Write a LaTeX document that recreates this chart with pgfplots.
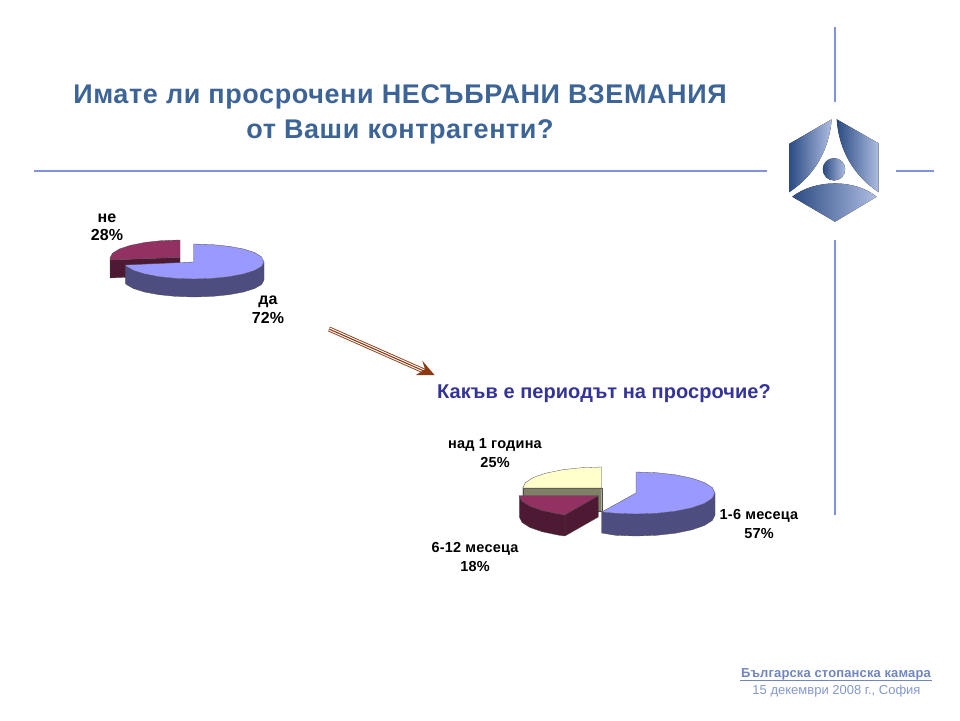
\documentclass[border=0pt]{standalone}
\usepackage{pgfplots}
\pgfplotsset{compat=1.18}
\usepackage{fontspec}
\setmainfont{Liberation Sans}
\definecolor{rule}{HTML}{8094DC}
\definecolor{ttl}{HTML}{3D6496}
\definecolor{sub}{HTML}{333399}
\definecolor{blueT}{HTML}{9999FF}
\definecolor{blueS}{HTML}{4D4D80}
\definecolor{marT}{HTML}{933162}
\definecolor{marS}{HTML}{4D1933}
\definecolor{yelT}{HTML}{FFFFCC}
\definecolor{yelS}{HTML}{808066}
\definecolor{arr}{HTML}{8B3A12}
\definecolor{logoD}{HTML}{2B4B82}
\definecolor{logoL}{HTML}{AEBDE2}
\definecolor{foot}{HTML}{7086BF}
\definecolor{foot2}{HTML}{8398CE}
\newcommand\lab[3]{\fontsize{#1}{#2}\bfseries\addfontfeatures{LetterSpace=#3}}
\begin{document}
\begin{tikzpicture}
\begin{axis}[
  scale only axis, width=960pt, height=720pt,
  xmin=0, xmax=960, ymin=0, ymax=720, y dir=reverse,
  hide axis, clip=false, no markers,
  every axis plot/.append style={line join=round},
  pie/.style={draw=black!70, line width=0.3pt}
]
\path (axis cs:0,0) rectangle (axis cs:960,720);
% rules
\addplot[rule, line width=1.4pt] coordinates {(34,171) (767,171)};
\addplot[rule, line width=1.4pt] coordinates {(896,171) (934,171)};
\addplot[rule, line width=1.4pt] coordinates {(835,27) (835,102)};
\addplot[rule, line width=1.4pt] coordinates {(835,240) (835,515)};

% logo
\fill[left color=logoD, right color=logoL, draw=none]
  (axis cs:831.7,119.3) -- (axis cs:789,144) -- (axis cs:789,192.3)
  .. controls (axis cs:815,175) and (axis cs:829,150) .. cycle;
\fill[left color=logoD, right color=logoL, draw=none]
  (axis cs:836.7,119.3) -- (axis cs:878.7,143.3) -- (axis cs:878.7,192.3)
  .. controls (axis cs:853,175) and (axis cs:839,150) .. cycle;
\fill[left color=logoD, right color=logoL, draw=none]
  (axis cs:792.3,196.7) .. controls (axis cs:815,179) and (axis cs:855,179) .. (axis cs:876.7,196.7)
  -- (axis cs:835,221.7) -- cycle;
\fill[left color=logoD, right color=logoL, draw=none]
  (axis cs:834,169.3) ellipse [x radius=11.2, y radius=11.2];

% title
\node[font=\lab{27}{35}{2.2}, text=ttl, align=center, anchor=center]
  at (axis cs:400,114) {Имате ли просрочени НЕСЪБРАНИ ВЗЕМАНИЯ\\от Ваши контрагенти?};

% pie 1: не 28%
\addplot[pie, fill=marS] coordinates {(110,260) (180,257.3) (180,275) (110,278) (110,260)};
\addplot[pie, fill=marT] coordinates {(180,257.3) (180,240) (161.9,240.6) (145,242.4) (130.5,245.3) (119.4,249) (112.4,253.3) (110,258) (110,260) (180,257.3)};
% pie 1: да 72%
\addplot[pie, fill=blueS] coordinates {(264,262) (261.6,266.5) (254.6,270.5) (243.5,274) (229,276.7) (212.1,278.4) (194,279) (175.9,278.4) (159,276.7) (144.5,274) (133.4,270.5) (126.4,266.5) (125.3,265) (125.3,283) (126.4,284.5) (133.4,288.5) (144.5,292) (159,294.7) (175.9,296.4) (194,297) (212.1,296.4) (229,294.7) (243.5,292) (254.6,288.5) (261.6,284.5) (264,280) (264,262)};
\addplot[pie, fill=blueT] coordinates {(193.5,262) (193.5,244) (212.1,244.6) (229,246.3) (243.5,249) (254.6,252.5) (261.6,257) (264,262) (261.6,266.5) (254.6,270.5) (243.5,274) (229,276.7) (212.1,278.4) (194,279) (175.9,278.4) (159,276.7) (144.5,274) (133.4,270.5) (126.4,266.5) (125.3,265) (193.5,262)};

\node[font=\lab{16}{18}{0}, align=center] at (axis cs:107,227) {не\\28\%};
\node[font=\lab{16}{19}{0}, align=center] at (axis cs:268,309.5) {да\\72\%};

% arrow
\addplot[arr, line width=5pt] coordinates {(329,329) (424,371)};
\addplot[white, line width=3.2pt] coordinates {(329,329) (424,371)};
\addplot[arr, line width=1.1pt] coordinates {(329,329) (424,371)};
\addplot[draw=none, fill=arr] coordinates {(434.5,375) (422.3,360.7) (425,369.3) (416,375) (434.5,375)};

% subtitle
\node[font=\lab{20}{23}{0.3}, text=sub] at (axis cs:604,394) {Какъв е периодът на просрочие?};

% pie 2: над 1 година 25%
\addplot[pie, fill=yelS] coordinates {(522.7,488) (601.7,488) (601.7,511) (522.7,511) (522.7,488)};
\addplot[pie, fill=yelT] coordinates {(601.7,488) (601.7,467) (581.3,467.7) (562.2,469.8) (545.8,473.2) (533.3,477.5) (525.4,482.6) (522.7,488) (601.7,488)};
% pie 2: 6-12 месеца 18%
\addplot[pie, fill=marS] coordinates {(598.3,495.7) (598.3,517) (564.9,536) (564.9,514.7) (598.3,495.7)};
\addplot[pie, fill=marS] coordinates {(519.3,495.7) (522,501.1) (529.9,506.2) (542.4,510.5) (558.8,513.9) (564.9,514.7) (564.9,536) (558.8,535.2) (542.4,531.8) (529.9,527.5) (522,522.4) (519.3,517) (519.3,495.7)};
\addplot[pie, fill=marT] coordinates {(598.3,495.7) (519.3,495.7) (522,501.1) (529.9,506.2) (542.4,510.5) (558.8,513.9) (564.9,514.7) (598.3,495.7)};
% pie 2: 1-6 месеца 57%
\addplot[pie, fill=blueS] coordinates {(715,493) (712.3,498.4) (704.4,503.5) (691.9,507.8) (675.5,511.2) (656.5,513.3) (636,514) (615.6,513.3) (602.6,512) (601.7,512) (601.7,533) (615.6,535.3) (636,536) (656.5,535.3) (675.5,533.2) (691.9,529.8) (704.4,525.5) (712.3,520.4) (715,515) (715,493)};
\addplot[pie, fill=blueT] coordinates {(636,493) (636,472) (656.5,472.7) (675.5,474.8) (691.9,478.2) (704.4,482.5) (712.3,487.6) (715,493) (712.3,498.4) (704.4,503.5) (691.9,507.8) (675.5,511.2) (656.5,513.3) (636,514) (615.6,513.3) (601.7,512) (636,493)};

\node[font=\lab{14.5}{19}{1.5}, align=center] at (axis cs:495,453) {над 1 година\\25\%};
\node[font=\lab{14.5}{19}{1.5}, align=center] at (axis cs:475,556.5) {6-12 месеца\\18\%};
\node[font=\lab{14.5}{19}{1.5}, align=center] at (axis cs:759,524) {1-6 месеца\\57\%};

% footer
\node[font=\lab{13}{15}{1}, text=foot] at (axis cs:836,674.5) {Българска стопанска камара};
\addplot[foot, line width=0.9pt] coordinates {(740,680.5) (932,680.5)};
\node[font=\fontsize{13}{15}\selectfont, text=foot2] at (axis cs:836.5,691.5) {15 декември 2008 г., София};
\end{axis}
\end{tikzpicture}
\end{document}
